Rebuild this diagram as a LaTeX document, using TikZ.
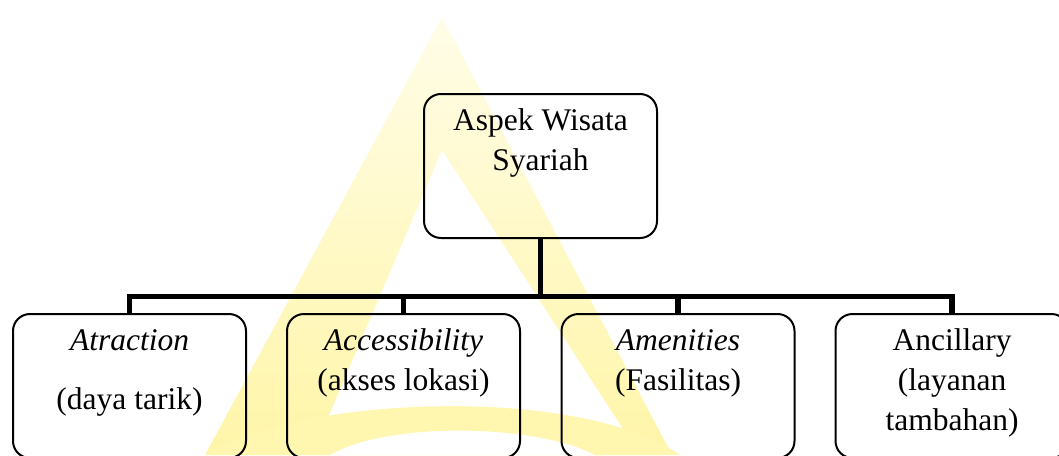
\documentclass[tikz,border=0pt]{standalone}
\usepackage{fontspec}
\setmainfont{Liberation Serif}
\definecolor{wmtop}{RGB}{255,253,232}
\definecolor{wmbot}{RGB}{255,245,168}
\definecolor{wmarc}{RGB}{255,246,175}
\begin{document}
\begin{tikzpicture}[x=1pt,y=-1pt,
  wbox/.style={draw, line width=2pt, rounded corners=17pt,
    minimum width=233pt, minimum height=144pt, inner sep=0pt},
  conn/.style={line width=5.5pt},
  lbl/.style={anchor=base, inner sep=0pt, font=\fontsize{31.5}{40}\selectfont}]
\useasboundingbox (0,0) rectangle (1059,455);
\clip (0,0) rectangle (1059,455);

% faint logo in the background
\shade[top color=wmtop, bottom color=wmbot, even odd rule]
  (442,17) -- (205,455) -- (672,455) -- cycle
  (442,150) -- (312,455) -- (640,455) -- cycle;
\fill[wmarc] (205,455) .. controls (300,395) and (580,385) .. (680,455)
  -- (595,455) .. controls (540,425) and (390,420) .. (330,455) -- cycle;

% boxes
\node[wbox] (root) at (540.5,166) {};
\node[wbox] (att) at (129.5,386) {};
\node[wbox] (acc) at (403.5,386) {};
\node[wbox] (ame) at (678,386) {};
\node[wbox] (anc) at (952,386) {};

% tree connectors
\coordinate (busL) at (129.5,296.5);
\coordinate (busR) at (952,296.5);
\draw[conn] (root.south) -- (root.south |- busL);
\draw[conn, line cap=rect] (busL) -- (busR);
\draw[conn] (busL) -- (att.north);
\draw[conn] (acc.north |- busL) -- (acc.north);
\draw[conn] (ame.north |- busL) -- (ame.north);
\draw[conn] (busR) -- (anc.north);

% labels
\node[lbl] (root1) at (540.5,130) {Aspek Wisata};
\node[lbl] (root2) at (540.5,170) {Syariah};
\node[lbl] (att1) at (129.5,350) {\itshape Atraction};
\node[lbl] (att2) at (129.5,409) {(daya tarik)};
\node[lbl] (acc1) at (403.5,350) {\itshape Accessibility};
\node[lbl] (acc2) at (403.5,390) {(akses lokasi)};
\node[lbl] (ame1) at (678,350) {\itshape Amenities};
\node[lbl] (ame2) at (678,390) {(Fasilitas)};
\node[lbl] (anc1) at (952,350) {Ancillary};
\node[lbl] (anc2) at (952,390) {(layanan};
\node[lbl] (anc3) at (952,430) {tambahan)};
\end{tikzpicture}
\end{document}
